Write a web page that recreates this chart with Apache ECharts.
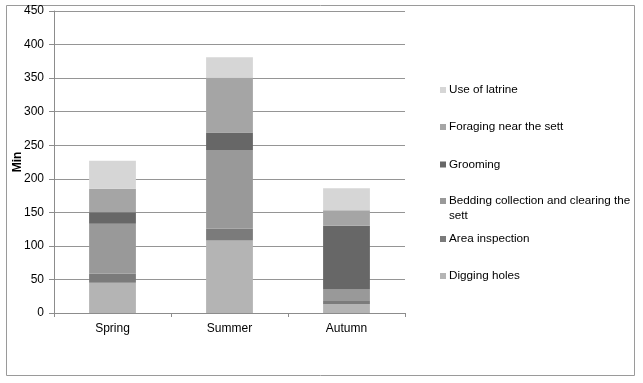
<!DOCTYPE html>
<html><head><meta charset="utf-8">
<script src="https://cdn.jsdelivr.net/npm/echarts@6/dist/echarts.min.js"></script>
<style>html,body{margin:0;padding:0;background:#fff}#c{width:643px;height:383px}</style>
</head><body><div id="c"></div>
<script>
const categories = ['Spring', 'Summer', 'Autumn'];
const seriesNames = ['Digging holes', 'Area inspection', 'Bedding collection and clearing the sett', 'Grooming', 'Foraging near the sett', 'Use of latrine'];
const diggingHoles = [45, 108, 13];
const areaInspection = [14, 18, 5];
const beddingCollection = [74, 117, 17];
const grooming = [17, 26, 95];
const foraging = [35, 82, 23];
const useOfLatrine = [42, 30, 33];
const yTicks = [0, 50, 100, 150, 200, 250, 300, 350, 400, 450];

const values = [diggingHoles, areaInspection, beddingCollection, grooming, foraging, useOfLatrine];
const colors = ['#b4b4b4', '#7b7b7b', '#999999', '#676767', '#a5a5a5', '#d6d6d6'];
const legendCenters = [276, 239, 201, 164.5, 127, 90];
const font = 'Liberation Sans, Arial, sans-serif';
const LEG_FS = 11.7;

const chart = echarts.init(document.getElementById('c'));
chart.setOption({
  animation: false,
  textStyle: { fontFamily: font },
  grid: { left: 54, right: 238, top: 11, bottom: 70, containLabel: false, outerBoundsMode: 'none' },
  xAxis: {
    type: 'category', data: categories,
    axisLine: { lineStyle: { color: '#8c8c8c' } },
    axisTick: { show: true, length: 4, lineStyle: { color: '#8c8c8c' } },
    axisLabel: { color: '#000', fontSize: 12, margin: 10, fontFamily: font }
  },
  yAxis: {
    type: 'value', min: 0, max: yTicks[yTicks.length - 1], interval: 50,
    name: 'Min', nameLocation: 'middle', nameGap: 30, nameRotate: 90, nameMoveOverlap: false,
    nameTextStyle: { color: '#000', fontSize: 12, fontWeight: 'bold', fontFamily: font },
    axisLine: { show: true, lineStyle: { color: '#8c8c8c' } },
    axisTick: { show: true, length: 5, lineStyle: { color: '#8c8c8c' } },
    axisLabel: { color: '#000', fontSize: 12, margin: 10, fontFamily: font },
    splitLine: { lineStyle: { color: '#959595' } }
  },
  legend: seriesNames.map((n, i) => ({
    data: [n], orient: 'vertical', left: 440, top: legendCenters[i] - 7.5,
    padding: 0,
    itemWidth: 6, itemHeight: 6, itemGap: 0, selectedMode: false,
    icon: 'rect',
    formatter: name => name === 'Bedding collection and clearing the sett' ? 'Bedding collection and clearing the' : name,
    textStyle: { fontSize: LEG_FS, color: '#000', fontFamily: font, lineHeight: 15, padding: [0, 0, 0, -2] }
  })),
  graphic: [{
    type: 'rect', shape: { x: 6.5, y: 5.5, width: 628, height: 370 },
    style: { fill: 'none', stroke: '#9a9a9a', lineWidth: 1 }, silent: true
  }, {
    type: 'text', left: 449, top: 208.5,
    style: { text: 'sett', fontSize: LEG_FS, fontFamily: font, fill: '#000', lineHeight: 15 }, silent: true
  }],
  series: seriesNames.map((n, i) => ({
    name: n, type: 'bar', stack: 'total', data: values[i],
    barWidth: '40%', itemStyle: { color: colors[i] }
  }))
});
</script></body></html>
